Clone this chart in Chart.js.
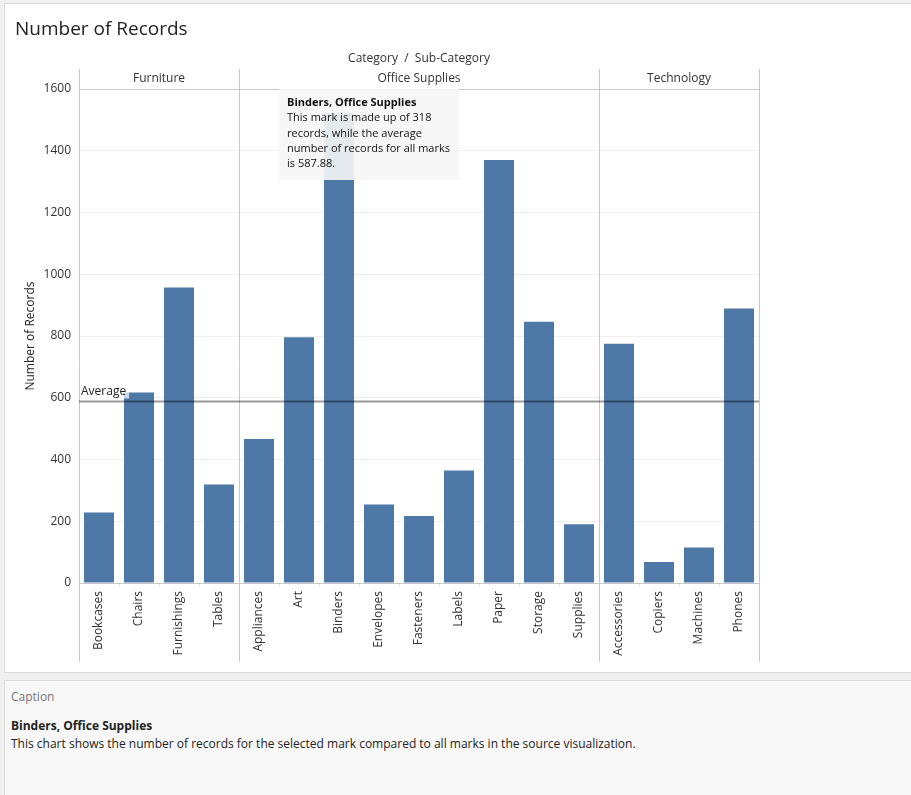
<!DOCTYPE html>
<html>
<head>
<meta charset="utf-8">
<script src="https://cdn.jsdelivr.net/npm/chart.js@4.4.1/dist/chart.umd.min.js"></script>
<style>
  html, body { margin: 0; padding: 0; background: #f0f0f0; font-family: 'Open Sans', sans-serif; }
  #page { position: relative; width: 911px; height: 795px; overflow: hidden; }
  #panel { position: absolute; left: 4px; top: 3px; width: 907px; height: 670px; background: #fff; border-left: 1px solid #dcdcdc; border-top: 1px solid #dcdcdc; border-bottom: 1px solid #dcdcdc; box-sizing: border-box; }
  #title { position: absolute; left: 10px; top: 11px; font-size: 19px; color: #222; }
  #caption { position: absolute; left: 4px; top: 680px; width: 907px; height: 115px; background: #f8f8f8; border-left: 1px solid #dcdcdc; border-top: 1px solid #dcdcdc; box-sizing: border-box; font-size: 12px; color: #222; }
  #caption .lbl { position: absolute; left: 6px; top: 7px; color: #777; }
  #caption .hd { position: absolute; left: 6px; top: 36px; font-weight: bold; }
  #caption .tx { position: absolute; left: 6px; top: 54px; }
</style>
</head>
<body>
<div id="page">
  <div id="panel">
    <canvas id="chart" width="906" height="668" style="position:absolute;left:-1px;top:0"></canvas>
    <div id="title">Number of Records</div>
  </div>
  <div id="caption">
    <div class="lbl">Caption</div>
    <div class="hd">Binders, Office Supplies</div>
    <div class="tx">This chart shows the number of records for the selected mark compared to all marks in the source visualization.</div>
  </div>
</div>
<script>
// données
const categories = ['Furniture', 'Office Supplies', 'Technology'];
const categorySizes = [4, 9, 4];
const subCategories = ['Bookcases', 'Chairs', 'Furnishings', 'Tables',
  'Appliances', 'Art', 'Binders', 'Envelopes', 'Fasteners', 'Labels', 'Paper', 'Storage', 'Supplies',
  'Accessories', 'Copiers', 'Machines', 'Phones'];
const records = [228, 617, 957, 319, 466, 796, 1523, 254, 217, 364, 1370, 846, 190, 775, 68, 115, 889];
const yTicks = [0, 200, 400, 600, 800, 1000, 1200, 1400, 1600];
const headerTitle = 'Category  /  Sub-Category';
const tooltipLines = ['Binders, Office Supplies', 'This mark is made up of 318', 'records, while the average', 'number of records for all marks', 'is 587.88.'];
const selectedIndex = 6;

const average = records.reduce(function(a, b){ return a + b; }, 0) / records.length;
const FONT = "'Open Sans', sans-serif";

const overlay = {
  id: 'overlay',
  beforeDatasetsDraw: function(chart){
    const ctx = chart.ctx, x = chart.scales.x, a = chart.chartArea;
    ctx.save();
    ctx.strokeStyle = '#c8c8c8'; ctx.lineWidth = 1;
    // ligne sous les en-têtes
    ctx.beginPath(); ctx.moveTo(a.left, a.top + 0.5); ctx.lineTo(a.right, a.top + 0.5); ctx.stroke();
    // séparateurs de catégories
    const half = (x.getPixelForValue(1) - x.getPixelForValue(0)) / 2;
    let idx = 0;
    const bounds = [a.left];
    categorySizes.forEach(function(n){ idx += n; bounds.push(x.getPixelForValue(idx - 1) + half); });
    bounds.forEach(function(b){
      const px = Math.round(b) + 0.5;
      ctx.beginPath(); ctx.moveTo(px, a.top - 20); ctx.lineTo(px, a.bottom + 79); ctx.stroke();
    });
    // textes d'en-tête
    ctx.fillStyle = '#333'; ctx.font = '12px ' + FONT; ctx.textAlign = 'center'; ctx.textBaseline = 'middle';
    ctx.fillText(headerTitle, (a.left + a.right) / 2, a.top - 30);
    categories.forEach(function(c, i){ ctx.fillText(c, (bounds[i] + bounds[i + 1]) / 2, a.top - 10); });
    ctx.restore();
  },
  afterDraw: function(chart){
    const ctx = chart.ctx, x = chart.scales.x, y = chart.scales.y, a = chart.chartArea;
    ctx.save();
    // ligne de moyenne
    const ay = y.getPixelForValue(average);
    ctx.strokeStyle = 'rgba(0,0,0,0.4)'; ctx.lineWidth = 2;
    ctx.beginPath(); ctx.moveTo(a.left, ay); ctx.lineTo(a.right, ay); ctx.stroke();
    ctx.font = '12px ' + FONT; ctx.textBaseline = 'middle'; ctx.textAlign = 'left';
    const w = ctx.measureText('Average').width;
    ctx.fillStyle = 'rgba(255,255,255,0.7)'; ctx.fillRect(a.left + 1, ay - 18, w + 4, 15);
    ctx.fillStyle = '#222'; ctx.fillText('Average', a.left + 2, ay - 10);
    // info-bulle
    const bx = x.getPixelForValue(selectedIndex);
    const tl = bx - 60, tt = a.top;
    ctx.fillStyle = 'rgba(246,246,246,0.9)'; ctx.fillRect(tl, tt, 180, 91);
    ctx.fillStyle = '#111'; ctx.textBaseline = 'middle';
    tooltipLines.forEach(function(t, i){
      ctx.font = (i === 0 ? 'bold ' : '') + '11px ' + FONT;
      ctx.fillText(t, tl + 8, tt + 14 + i * 15.3);
    });
    ctx.restore();
  }
};

new Chart(document.getElementById('chart').getContext('2d'), {
  type: 'bar',
  data: {
    labels: subCategories,
    datasets: [{ label: 'Number of Records', data: records, backgroundColor: '#4e79a7', barPercentage: 0.75, categoryPercentage: 1 }]
  },
  options: {
    responsive: false,
    animation: false,
    layout: { padding: { left: 0, right: 151, top: 85, bottom: 0 } },
    plugins: { legend: { display: false }, tooltip: { enabled: false } },
    scales: {
      x: {
        afterFit: function(s){ s.height = 89; },
        grid: { offset: true, drawOnChartArea: false, tickLength: 4, color: '#e6e6e6' },
        border: { color: '#c8c8c8' },
        ticks: { minRotation: 90, maxRotation: 90, autoSkip: false, color: '#333', font: { family: FONT, size: 12 }, padding: 4 }
      },
      y: {
        min: 0, max: 1600,
        afterFit: function(s){ s.width = 75; },
        afterBuildTicks: function(s){ s.ticks = yTicks.map(function(v){ return { value: v }; }); },
        grid: { color: function(c){ return c.tick && c.tick.value === 0 ? '#c8c8c8' : '#efefef'; }, drawTicks: false },
        border: { display: false },
        ticks: { color: '#333', font: { family: FONT, size: 12 }, padding: 8, callback: function(v){ return String(v); } },
        title: { display: true, text: 'Number of Records', color: '#222', font: { family: FONT, size: 12 }, padding: { top: 19 } }
      }
    }
  },
  plugins: [overlay]
});
</script>
</body>
</html>
